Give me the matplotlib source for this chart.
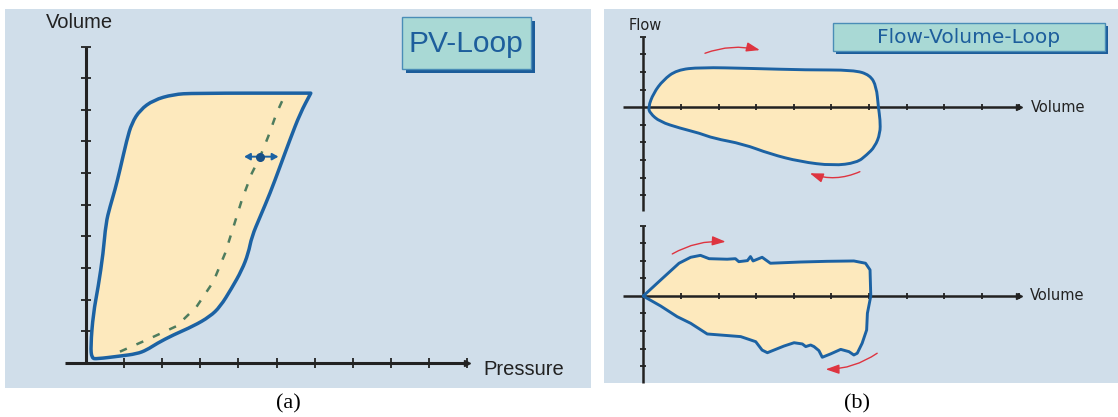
import matplotlib
matplotlib.use("Agg")
import matplotlib.pyplot as plt
from matplotlib.patches import Rectangle, FancyArrowPatch, PathPatch
from matplotlib.path import Path

# ---------------- data (axis tick units) ----------------
# (a) PV loop
pv_pressure = [0.15, 0.12, 0.19, 0.32, 0.45, 0.52, 0.63, 0.76, 0.89, 1.07, 1.2, 1.42, 1.77,
               2.29, 2.82, 5.9, 5.62, 5.35, 5.09, 4.83, 4.57, 4.35, 4.26, 4.09, 3.82, 3.52,
               3.25, 2.82, 2.29, 1.86, 1.59, 1.33, 0.89, 0.28]
pv_volume = [0.14, 0.51, 1.56, 2.4, 3.46, 4.41, 4.94, 5.47, 6.1, 7.05, 7.58, 8.0, 8.31,
             8.49, 8.53, 8.53, 7.89, 7.05, 6.2, 5.36, 4.62, 3.99, 3.46, 2.93, 2.35, 1.77,
             1.46, 1.16, 0.88, 0.61, 0.4, 0.28, 0.21, 0.12]
# dashed compliance curve
comp_pressure = [0.89, 1.59, 2.38, 2.9, 3.34, 3.65, 3.87, 4.09, 4.35, 4.57, 4.78, 5.0, 5.2]
comp_volume = [0.35, 0.72, 1.16, 1.77, 2.56, 3.46, 4.3, 5.15, 5.99, 6.52, 7.15, 7.89, 8.42]
op_point = (4.57, 6.52)
op_span = (4.15, 5.05)

# (b) flow-volume loops
fv1_vol = [0.13, 0.27, 0.53, 0.89, 1.51, 2.84, 4.35, 5.59, 6.03, 6.2, 6.25, 6.3, 6.3, 6.16,
           5.94, 5.68, 5.05, 4.17, 3.37, 2.66, 1.86, 1.51, 0.98, 0.44, 0.18]
fv1_flow = [0, 0.8, 1.55, 2.12, 2.27, 2.21, 2.12, 2.12, 1.84, 1.17, 0.03, -0.72, -1.48, -2.24,
            -2.71, -3.15, -3.32, -3.09, -2.65, -2.09, -1.76, -1.48, -1.19, -0.82, -0.34]
fv2_vol = [0, 0.46, 0.95, 1.26, 1.52, 1.75, 2.23, 2.45, 2.54, 2.77, 2.85, 2.92, 3.16, 3.38,
           4.18, 4.89, 5.6, 5.91, 6.03, 6.05, 5.96, 5.94, 5.82, 5.69, 5.6, 5.47, 5.25, 4.98,
           4.76, 4.67, 4.54, 4.45, 4.32, 4.23, 4.01, 3.74, 3.3, 3.16, 2.99, 2.59, 1.7, 1.26,
           0.9, 0.46, 0.1]
fv2_flow = [0, 0.91, 1.87, 2.21, 2.32, 2.13, 2.1, 2.13, 1.96, 2.02, 2.25, 2.0, 2.21, 1.87,
            1.94, 1.98, 2.0, 1.87, 1.49, 0, -0.99, -1.94, -2.7, -3.27, -3.37, -3.18, -3.05,
            -3.31, -3.5, -3.12, -2.89, -2.8, -2.89, -2.74, -2.67, -2.86, -3.24, -3.09, -2.61,
            -2.32, -2.17, -1.56, -1.18, -0.57, -0.13]
# direction arrows (tail, head)
fv1_arrows = [((1.64, 3.07), (3.1, 3.25)), ((5.76, -3.66), (4.43, -3.75))]
fv2_arrows = [((0.77, 2.4), (2.19, 3.1)), ((6.22, -3.27), (4.85, -4.19))]

pv_xticks = list(range(1, 11))
pv_yticks = list(range(1, 11))
fv_xticks = list(range(1, 11))
fv1_yticks = [-5, -4, -3, -2, -1, 1, 2, 3, 4]
fv2_yticks = [-4, -3, -2, -1, 1, 2, 3, 4]

# ---------------- style ----------------
BG = "#D0DEEA"
FILL = "#FDE9BD"
LINE = "#1C62A3"
AXC = "#222222"
RED = "#DE3440"
GREEN = "#4E7C5E"
BOXF = "#A9D9D5"
BOXE = "#4A8DB7"
SHAD = "#1B5C9A"
TXTB = "#1D5E9C"

W, H = 1118, 417
fig = plt.figure(figsize=(W / 100, H / 100), dpi=100)
fig.patch.set_facecolor("white")


def rect_px(x0, y0, x1, y1, **kw):
    r = Rectangle((x0 / W, 1 - y1 / H), (x1 - x0) / W, (y1 - y0) / H,
                  transform=fig.transFigure, **kw)
    fig.add_artist(r)
    return r


def axes_px(x0, y0, x1, y1):
    return fig.add_axes([x0 / W, 1 - y1 / H, (x1 - x0) / W, (y1 - y0) / H])


def setup(ax, xlim, ylim, xt, yt, lw=2.0, tl=6):
    ax.set_xlim(xlim)
    ax.set_ylim(ylim)
    ax.patch.set_visible(False)
    for s in ("top", "right"):
        ax.spines[s].set_visible(False)
    for s in ("left", "bottom"):
        ax.spines[s].set_position(("data", 0))
        ax.spines[s].set_linewidth(lw)
        ax.spines[s].set_color(AXC)
        ax.spines[s].set_capstyle("butt")
    ax.set_xticks(xt)
    ax.set_yticks(yt)
    ax.tick_params(direction="inout", length=tl, width=1.3, color=AXC,
                   labelbottom=False, labelleft=False)
    ax.plot([xlim[1]], [0], marker=">", ms=4, color=AXC, clip_on=False, zorder=3)


def smooth_closed_path(xs, ys, sharp=()):
    """Closed quadratic-Bezier path using the read points as control points."""
    pts = list(zip(xs, ys))
    n = len(pts)
    mids = [((pts[i][0] + pts[(i + 1) % n][0]) / 2, (pts[i][1] + pts[(i + 1) % n][1]) / 2)
            for i in range(n)]
    verts = [mids[-1]]
    codes = [Path.MOVETO]
    for i in range(n):
        verts += [pts[i], mids[i]]
        codes += [Path.LINETO, Path.LINETO] if i in sharp else [Path.CURVE3, Path.CURVE3]
    verts.append(mids[-1])
    codes.append(Path.CLOSEPOLY)
    return Path(verts, codes)


def smooth_loop(ax, xs, ys, lw, sharp=()):
    path = smooth_closed_path(xs, ys, sharp)
    ax.add_patch(PathPatch(path, fc=FILL, ec="none", zorder=1))
    ax.add_patch(PathPatch(path, fc="none", ec=LINE, lw=lw, joinstyle="round",
                           zorder=3, clip_on=False))


def poly_loop(ax, xs, ys, lw):
    ax.fill(xs, ys, fc=FILL, ec="none", zorder=1)
    ax.plot(list(xs) + [xs[0]], list(ys) + [ys[0]], color=LINE, lw=lw,
            solid_joinstyle="round", solid_capstyle="round", zorder=3, clip_on=False)


def red_arrow(ax, tail, head, rad):
    ax.add_patch(FancyArrowPatch(tail, head, connectionstyle=f"arc3,rad={rad}",
                                 arrowstyle="-|>,head_length=8,head_width=2.8",
                                 color=RED, lw=1.0, zorder=4,
                                 clip_on=False, shrinkA=0, shrinkB=0))


# ---------------- backgrounds ----------------
rect_px(5, 9, 591, 388, fc=BG, ec="none", zorder=-5)
rect_px(604, 9, 1118, 383, fc=BG, ec="none", zorder=-5)

# ---------------- panel (a) ----------------
axa = axes_px(64.7, 46.7, 467, 362.7)
setup(axa, (-0.56, 10.0), (0, 10.0), pv_xticks, pv_yticks, lw=2.2, tl=7)
smooth_loop(axa, pv_pressure, pv_volume, 2.5, sharp=(15,))
axa.plot(comp_pressure, comp_volume, color=GREEN, lw=1.8, ls=(0, (3.0, 4.2)), zorder=2)
axa.annotate("", xy=(op_span[1], op_point[1]), xytext=(op_span[0], op_point[1]),
             arrowprops=dict(arrowstyle="<|-|>,head_length=0.35,head_width=0.2",
                             color=LINE, lw=1.4, shrinkA=0, shrinkB=0), zorder=4)
axa.plot([op_point[0]], [op_point[1]], "o", ms=5.5, color="#174F86", zorder=5)
axa.text(-0.16, 10.78, "Volume", fontsize=14.5, family="Liberation Sans", color="#222222",
         ha="center", va="center")
axa.text(10.42, -0.23, "Pressure", fontsize=14.5, family="Liberation Sans", color="#222222",
         ha="left", va="center")

rect_px(405.7, 21.3, 535, 73.3, fc=SHAD, ec="none", zorder=1)
rect_px(401.7, 17.3, 531, 69.3, fc=BOXF, ec=BOXE, lw=1.0, zorder=2)
fig.text(466.3 / W, 1 - 43.5 / H, "PV-Loop", fontsize=21.5, family="Liberation Sans",
         color=TXTB, ha="center", va="center", zorder=3)

# ---------------- panel (b) top ----------------
axb1 = axes_px(623, 36.9, 1019.3, 211.1)
setup(axb1, (-0.54, 10.0), (-5.9, 4.0), fv_xticks, fv1_yticks, lw=1.8, tl=5)
smooth_loop(axb1, fv1_vol, fv1_flow, 2.1)
for (t, h), rad in zip(fv1_arrows, (-0.15, -0.2)):
    red_arrow(axb1, t, h, rad)
axb1.text(0.05, 4.62, "Flow", fontsize=10.5, color="#222222", ha="center", va="center")
axb1.text(10.31, 0, "Volume", fontsize=10.5, color="#222222", ha="left", va="center")

rect_px(836, 26.3, 1108, 54, fc=SHAD, ec="none", zorder=1)
rect_px(833, 23.3, 1105, 51, fc=BOXF, ec=BOXE, lw=1.0, zorder=2)
fig.text(969 / W, 1 - 37.5 / H, "Flow-Volume-Loop", fontsize=14.5, family="DejaVu Sans",
         color=TXTB, ha="center", va="center", zorder=3)

# ---------------- panel (b) bottom ----------------
axb2 = axes_px(623, 225.6, 1019.3, 383)
setup(axb2, (-0.54, 10.0), (-4.97, 4.02), fv_xticks, fv2_yticks, lw=1.8, tl=5)
poly_loop(axb2, fv2_vol, fv2_flow, 2.1)
for (t, h), rad in zip(fv2_arrows, (-0.15, -0.15)):
    red_arrow(axb2, t, h, rad)
axb2.text(10.29, 0, "Volume", fontsize=10.5, color="#222222", ha="left", va="center")

# ---------------- sub-captions ----------------
fig.text(288 / W, 1 - 404 / H, "(a)", fontsize=16, family="Liberation Serif",
         ha="center", va="center")
fig.text(857 / W, 1 - 404 / H, "(b)", fontsize=16, family="Liberation Serif",
         ha="center", va="center")

fig.savefig("out.png", dpi=100, facecolor="white")
